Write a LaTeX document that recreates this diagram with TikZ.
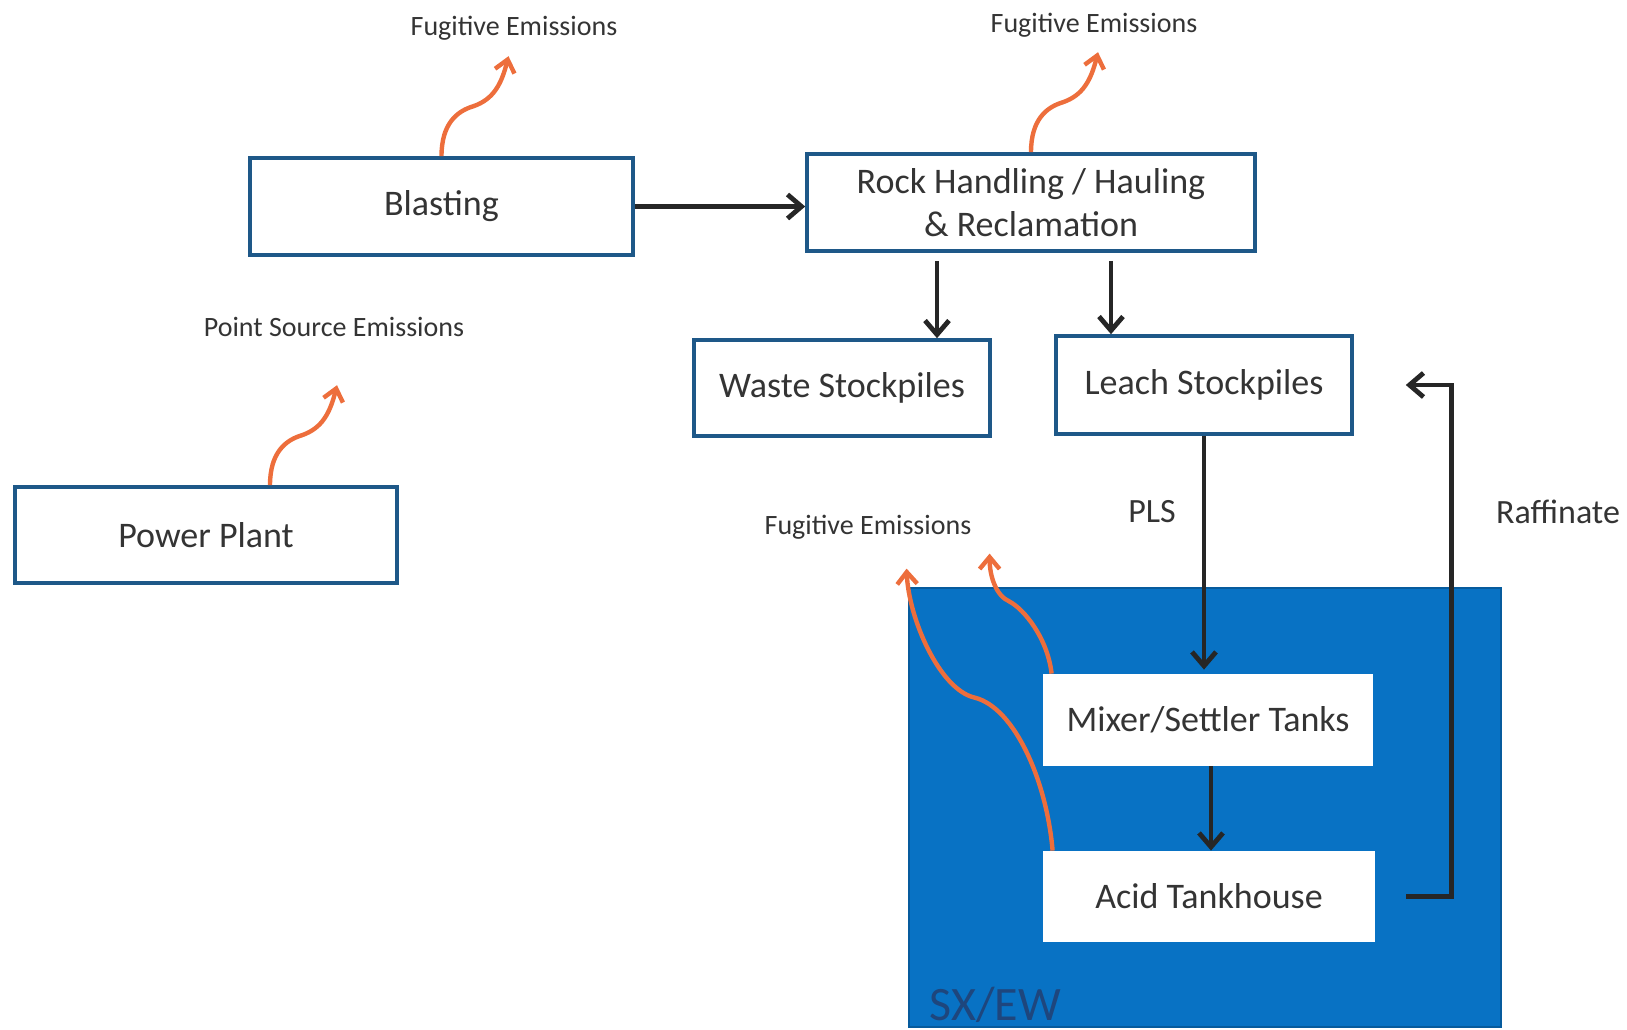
\documentclass[tikz,border=0pt]{standalone}
\usepackage{fontspec}
\setmainfont{Carlito}
\usepackage{xcolor}
\usetikzlibrary{arrows.meta}
\definecolor{boxline}{RGB}{30,88,136}
\definecolor{sxblue}{RGB}{8,114,196}
\definecolor{sxtext}{RGB}{30,70,125}
\definecolor{fumes}{RGB}{237,110,60}
\definecolor{txt}{RGB}{52,52,52}

\begin{document}
\begin{tikzpicture}[x=0.5pt,y=-0.5pt,
  unit/.style={draw=boxline,line width=1.8pt,fill=white,text=txt,font=\fontsize{18}{21.5}\selectfont,inner sep=0pt,align=center},
  tank/.style={fill=white,text=txt,font=\fontsize{18}{21.5}\selectfont,inner sep=0pt},
  flow/.style={draw=black!85,line width=2.4pt,-{Straight Barb[length=7pt,width=12pt]}},
  fume/.style={draw=fumes,line width=2.2pt,-{Straight Barb[length=6pt,width=10pt]}},
  note/.style={text=txt,font=\fontsize{14}{16}\selectfont,inner sep=0pt}]
\useasboundingbox (0,0) rectangle (1627,1029);

% mine site
\node[unit,minimum width=191.5pt,minimum height=48.5pt] (blast) at (441.5,206.5) {Blasting};
\node[unit,minimum width=224pt,minimum height=48.5pt] (rock) at (1031,202.5) {Rock Handling / Hauling\\ \& Reclamation};
\node[unit,minimum width=148pt,minimum height=48pt] (waste) at (842,388) {Waste Stockpiles};
\node[unit,minimum width=148pt,minimum height=49pt] (leach) at (1204,385) {Leach Stockpiles};
\node[unit,minimum width=191pt,minimum height=48pt] (power) at (206,535) {Power Plant};

% SX/EW plant
\node[fill=sxblue,draw=sxblue!80!black,line width=0.8pt,inner sep=0pt,minimum width=296pt,minimum height=219.5pt] (sxew) at (1205,807.5) {};
\node[anchor=base west,text=sxtext,font=\fontsize{24}{28}\selectfont,inner sep=0pt] (sxlbl) at (929,1020) {SX/EW};
\node[tank,minimum width=165pt,minimum height=46pt] (mixer) at (1208,720) {Mixer/Settler Tanks};
\node[tank,minimum width=166pt,minimum height=45.5pt] (acid) at (1209,896.5) {Acid Tankhouse};

\node[note] (fblast) at (514,28) {Fugitive Emissions};
\node[note] (frock) at (1094,25) {Fugitive Emissions};
\node[note] (fsx) at (868,527) {Fugitive Emissions};
\node[note] (fpower) at (334,327) {Point Source Emissions};
\node[text=txt,font=\fontsize{17}{20}\selectfont,inner sep=0pt] (pls) at (1152,512) {PLS};
\node[text=txt,font=\fontsize{17}{20}\selectfont,inner sep=0pt] (raff) at (1558,512) {Raffinate};

% material flow
\draw[flow] (blast.east) -- (blast.east -| rock.west);
\draw[flow,shorten <=4pt] (rock.south -| 937,0) -- (waste.north -| 937,0);
\draw[flow,shorten <=4pt] (rock.south -| 1111,0) -- (leach.north -| 1111,0);
\draw[flow,shorten >=2pt] (leach.south) -- (leach.south |- mixer.north);
\draw[flow] (mixer.south -| 1211,0) -- (acid.north -| 1211,0);
\draw[flow] ([xshift=15.5pt]acid.east) -- ++(45,0) |- ([xshift=26pt]leach.east);

% emissions
\draw[fume] (blast.north) .. controls +(0,-32) and +(-17,5) .. ++(32,-50) .. controls +(20,-7) and +(-7,28) .. ++(35,-50);
\draw[fume] (rock.north) .. controls +(0,-32) and +(-17,5) .. ++(32,-50) .. controls +(20,-7) and +(-7,28) .. ++(35,-50);
\draw[fume] ([xshift=32pt]power.north) .. controls +(0,-32) and +(-17,5) .. ++(32,-50) .. controls +(20,-7) and +(-7,28) .. ++(35,-50);
\draw[fume] ([xshift=4.5pt]mixer.north west) .. controls +(-4,-35) and +(15,8) .. ++(-42,-72) .. controls +(-14,-6) and +(0,22) .. ++(-20,-48);
\draw[fume] ([xshift=5pt]acid.north west) .. controls +(-6,-70) and +(40,10) .. ++(-78,-153) .. controls +(-35,-8) and +(2,50) .. ++(-68,-129);
\end{tikzpicture}
\end{document}
